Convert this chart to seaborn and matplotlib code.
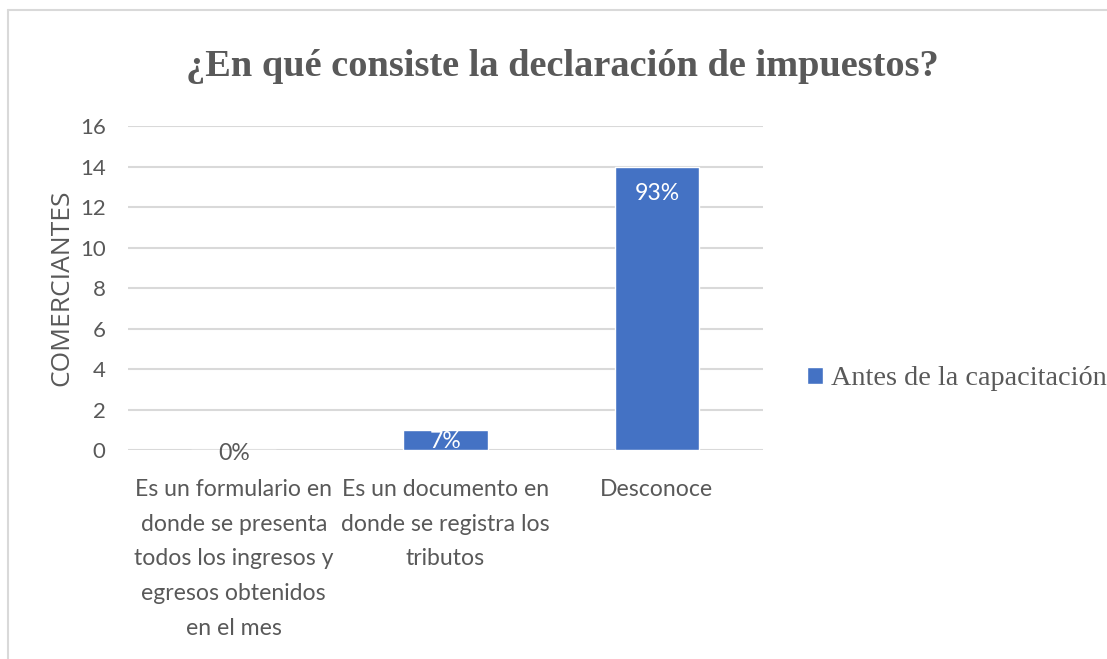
import pandas as pd
import matplotlib.pyplot as plt
from matplotlib.lines import Line2D
import seaborn as sns

# Data
categorias = [
    'Es un formulario en\ndonde se presenta\ntodos los ingresos y\negresos obtenidos\nen el mes',
    'Es un documento en\ndonde se registra los\ntributos',
    'Desconoce',
]
comerciantes = [0, 1, 14]
porcentajes = ['0%', '7%', '93%']
serie = 'Antes de la capacitación'

df = pd.DataFrame({'categoria': categorias, 'valor': comerciantes, 'serie': serie})

sns.set_style('white')
gris = '#595959'
azul = '#4472C4'
fuente = 'Lato'

fig = plt.figure(figsize=(11.07, 6.59), dpi=100)
ax = fig.add_axes([0.1156, 0.317, 0.5734, 0.4918])

sns.barplot(data=df, x='categoria', y='valor', hue='serie', palette=[azul],
            width=0.4, ax=ax, saturation=1)

ax.set_ylim(0, 16)
ax.set_yticks(range(0, 17, 2))
ax.set_xlim(-0.5, 2.5)
ax.yaxis.grid(True, color='#D9D9D9', linewidth=1.5)
ax.set_axisbelow(True)
for s in ax.spines.values():
    s.set_visible(False)
ax.tick_params(axis='both', length=0, colors=gris, labelsize=16.6)
ax.tick_params(axis='y', pad=16)
ax.tick_params(axis='x', pad=21)
for t in ax.get_xticklabels():
    t.set_fontfamily(fuente)
    t.set_linespacing(1.8)
for t in ax.get_yticklabels():
    t.set_fontfamily(fuente)
    t.set_fontsize(16)
ax.set_xlabel('')
ax.set_ylabel('COMERCIANTES', fontsize=19, color=gris, family='Open Sans')
ax.yaxis.set_label_coords(-0.085, 0.50)

# data labels
for i, (v, p) in enumerate(zip(comerciantes, porcentajes)):
    if v == 0:
        ax.text(i, v - 0.15, p, ha='center', va='center', fontsize=16.6, color=gris, family=fuente)
    elif v < 2:
        ax.text(i, v - 0.05, p, ha='center', va='top', fontsize=16.6, color='white', family=fuente)
    else:
        ax.text(i, v - 0.8, p, ha='center', va='top', fontsize=16.6, color='white', family=fuente)

# legend on the right
ax.legend(loc='center left', bbox_to_anchor=(1.03, 0.22), frameon=False,
          prop={'family': 'Liberation Serif', 'size': 20.3}, handlelength=0.55,
          handleheight=0.55, handletextpad=0.3, labelcolor=gris)

fig.suptitle('¿En qué consiste la declaración de impuestos?', x=0.508, y=0.925,
             fontsize=27.6, fontweight='bold', family='Liberation Serif', color=gris)

# chart border (top and left, as cropped in the original)
fig.add_artist(Line2D([0.007, 1.0], [0.985, 0.985], color='#D9D9D9', lw=1.5, transform=fig.transFigure))
fig.add_artist(Line2D([0.007, 0.007], [0.0, 0.985], color='#D9D9D9', lw=1.5, transform=fig.transFigure))

fig.savefig('out.png', dpi=100)
